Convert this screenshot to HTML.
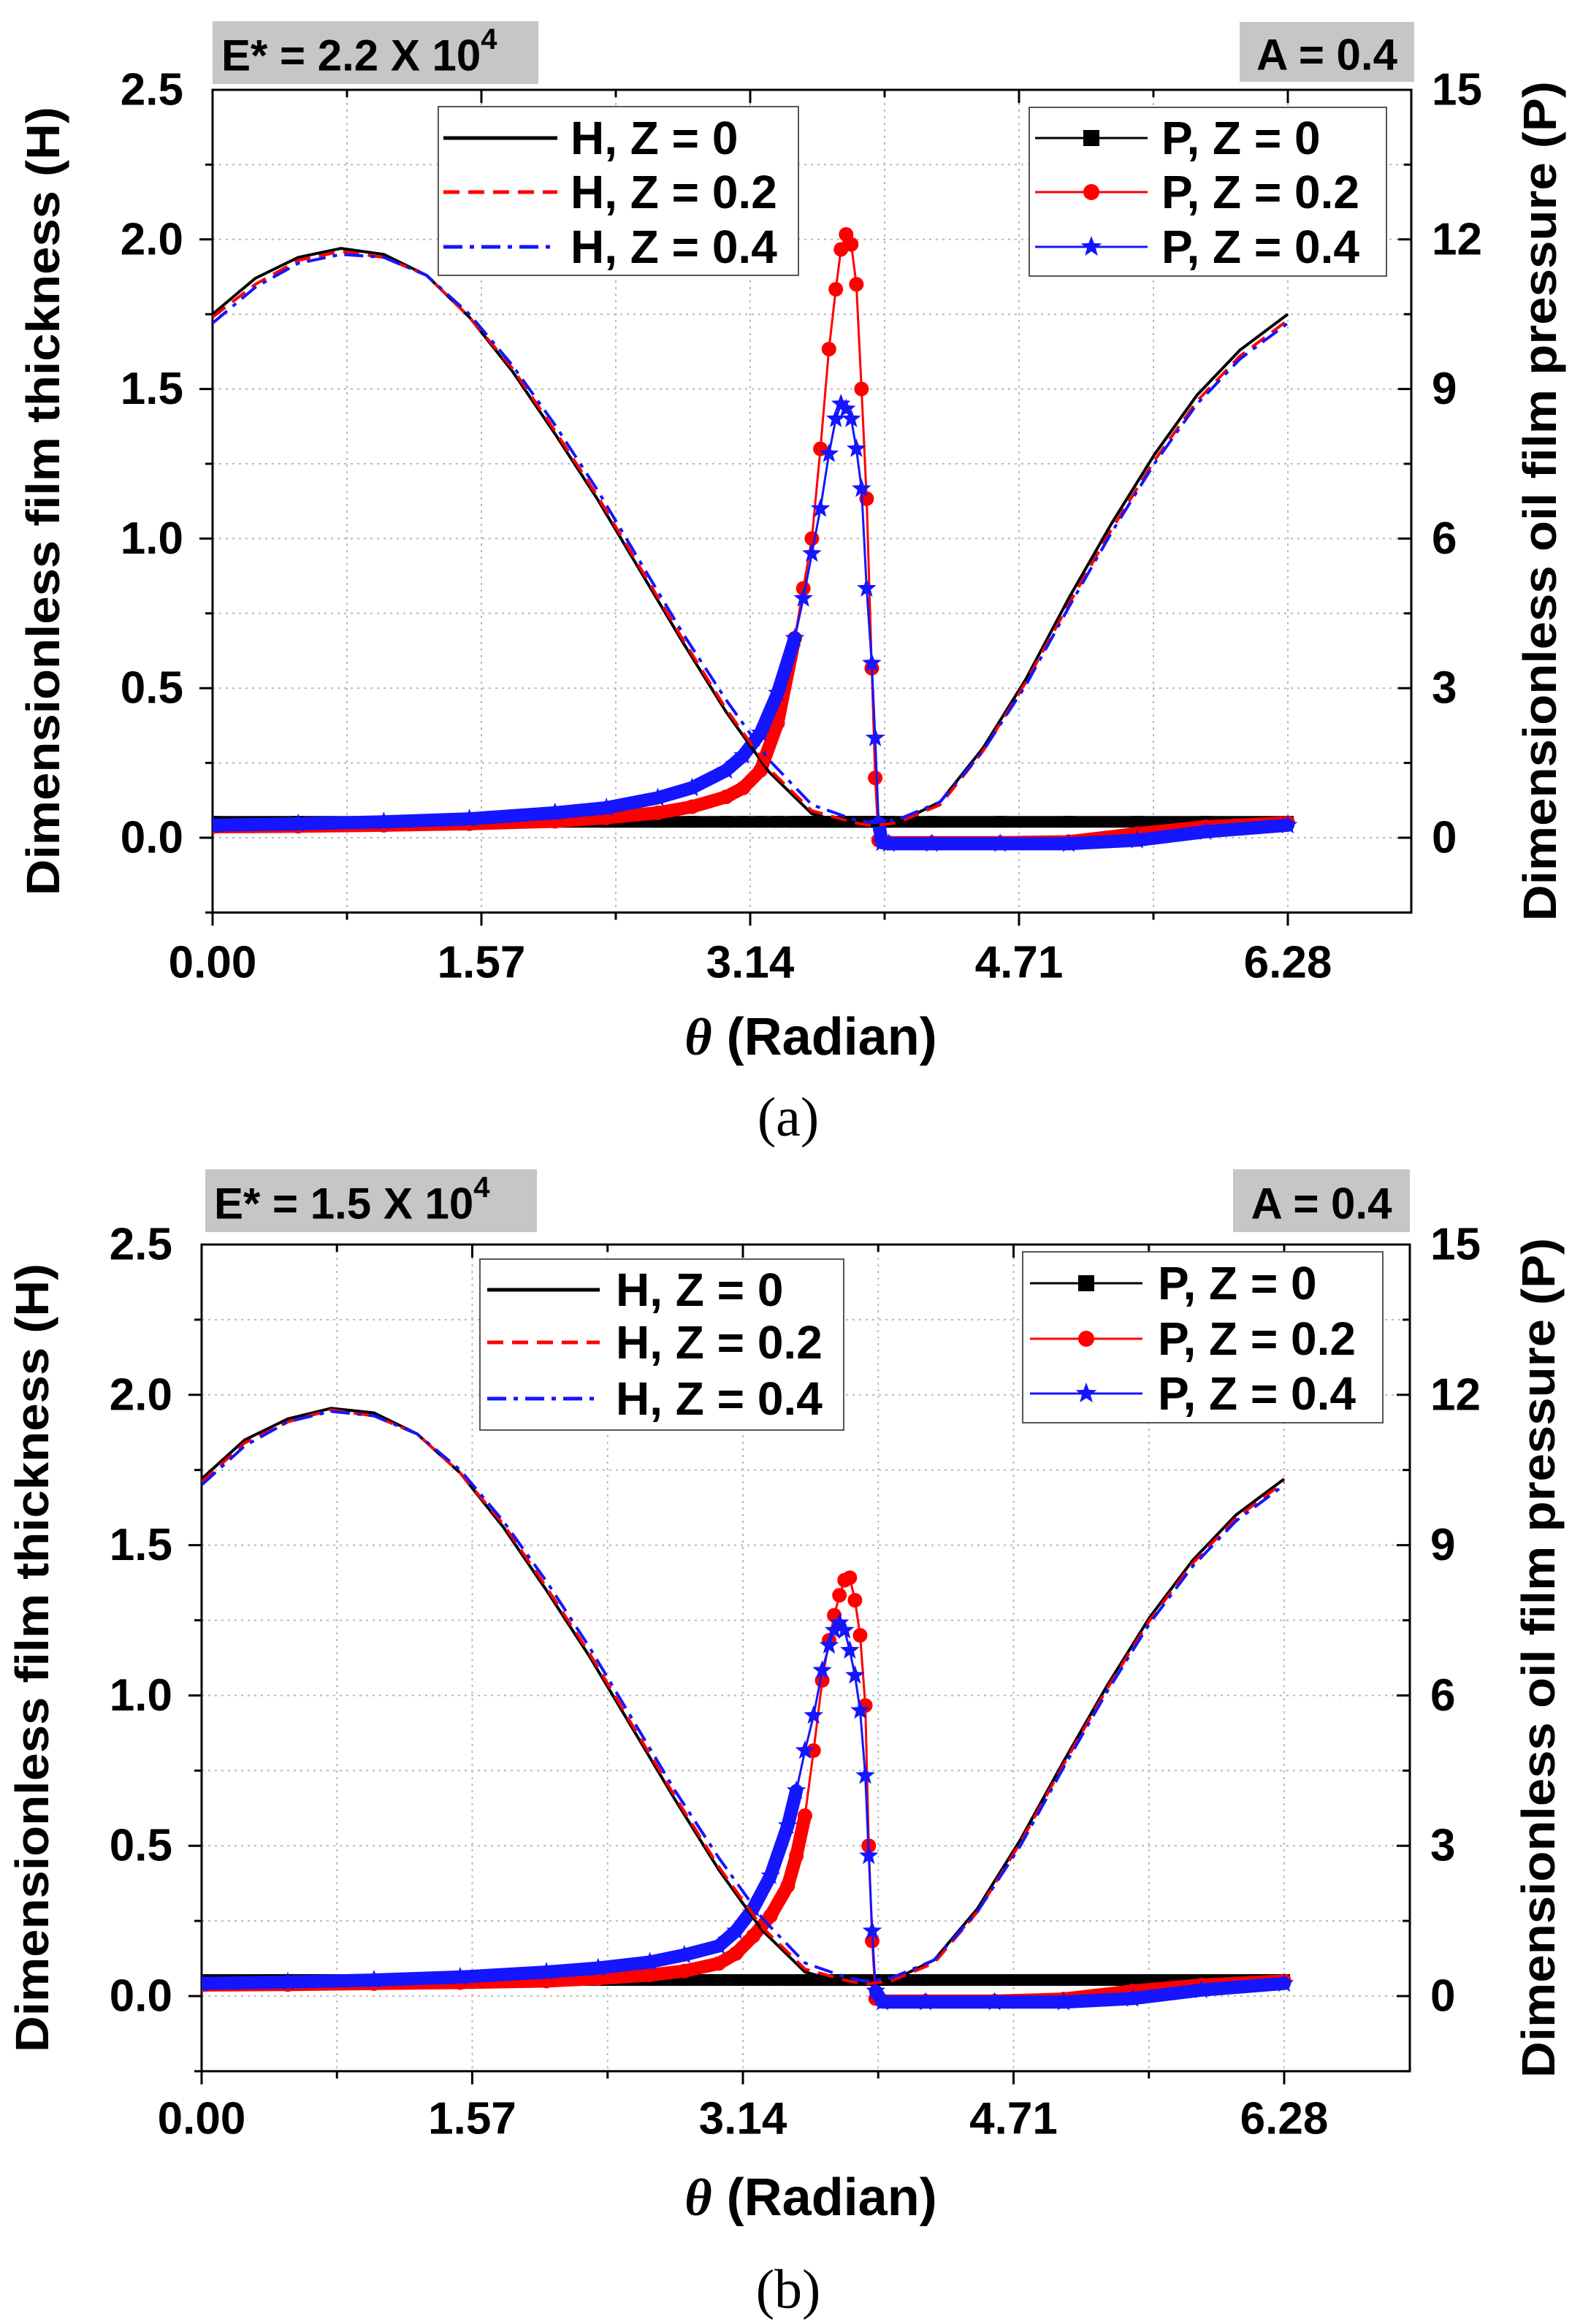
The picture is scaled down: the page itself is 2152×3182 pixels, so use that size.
<!DOCTYPE html>
<html><head><meta charset="utf-8"><style>
html,body{margin:0;padding:0;background:#fff;}
svg{display:block;font-family:"Liberation Sans",Arial,sans-serif;}
</style></head><body>
<svg id="fig" width="2152" height="3182" viewBox="0 0 2152 3182" xmlns="http://www.w3.org/2000/svg"></svg>
<script>
// ---- Data ----
const xTicks = [0, 1.57, 3.14, 4.71, 6.28];
const xTickLabels = ["0.00", "1.57", "3.14", "4.71", "6.28"];
const hTicks = [0, 0.5, 1.0, 1.5, 2.0, 2.5];
const hTickLabels = ["0.0", "0.5", "1.0", "1.5", "2.0", "2.5"];
const pTicks = [0, 3, 6, 9, 12, 15];
const pTickLabels = ["0", "3", "6", "9", "12", "15"];

const thetaH = [0,0.25,0.5,0.75,1.0,1.25,1.5,1.75,2.0,2.25,2.5,2.75,3.0,3.25,3.5,3.75,3.85,4.0,4.25,4.5,4.75,5.0,5.25,5.5,5.75,6.0,6.28];
const hA_z0  = [1.75,1.87,1.94,1.97,1.95,1.88,1.74,1.56,1.35,1.13,0.89,0.65,0.42,0.22,0.08,0.04,0.04,0.05,0.12,0.30,0.53,0.80,1.05,1.28,1.48,1.63,1.75];
const hA_z2  = [1.74,1.85,1.93,1.96,1.94,1.88,1.74,1.57,1.36,1.14,0.90,0.66,0.43,0.23,0.09,0.05,0.04,0.05,0.11,0.29,0.52,0.78,1.03,1.26,1.46,1.61,1.73];
const hA_z4  = [1.72,1.84,1.92,1.95,1.94,1.88,1.75,1.58,1.38,1.16,0.92,0.68,0.46,0.26,0.11,0.06,0.05,0.06,0.12,0.29,0.51,0.77,1.02,1.25,1.45,1.60,1.72];
const hB_z0  = [1.72,1.85,1.92,1.955,1.94,1.87,1.74,1.56,1.35,1.13,0.89,0.65,0.42,0.22,0.08,0.04,0.04,0.05,0.12,0.29,0.52,0.78,1.03,1.26,1.45,1.60,1.72];
const hB_z2  = [1.71,1.84,1.91,1.95,1.93,1.87,1.74,1.57,1.36,1.14,0.90,0.66,0.43,0.23,0.09,0.05,0.04,0.05,0.11,0.28,0.51,0.77,1.02,1.25,1.44,1.59,1.71];
const hB_z4  = [1.70,1.83,1.91,1.945,1.93,1.87,1.75,1.58,1.38,1.16,0.92,0.68,0.46,0.26,0.11,0.06,0.05,0.06,0.12,0.28,0.50,0.76,1.01,1.24,1.43,1.58,1.70];

const thetaP = [0,0.5,1.0,1.5,2.0,2.3,2.6,2.8,3.0,3.1,3.2,3.3,3.4,3.45,3.5,3.55,3.6,3.64,3.67,3.7,3.73,3.76,3.79,3.82,3.85,3.87,3.89,3.91,3.95,4.2,4.6,5.0,5.4,5.8,6.28];
const pA_z0 = [0.32,0.32,0.32,0.32,0.32,0.32,0.32,0.32,0.32,0.32,0.32,0.32,0.32,0.32,0.32,0.32,0.32,0.32,0.32,0.32,0.32,0.32,0.32,0.32,0.32,0.32,0.32,0.32,0.32,0.32,0.32,0.32,0.32,0.32,0.32];
const pA_z2 = [0.22,0.23,0.25,0.28,0.33,0.40,0.50,0.62,0.82,1.0,1.35,2.3,4.0,5.0,6.0,7.8,9.8,11.0,11.8,12.1,11.9,11.1,9.0,6.8,3.4,1.2,-0.05,-0.08,-0.1,-0.1,-0.1,-0.08,0.08,0.22,0.3];
const pA_z4 = [0.25,0.28,0.32,0.38,0.50,0.60,0.80,1.0,1.35,1.65,2.1,2.9,4.0,4.8,5.7,6.6,7.7,8.4,8.7,8.6,8.4,7.8,7.0,5.0,3.5,2.0,0.3,-0.1,-0.12,-0.12,-0.12,-0.12,-0.05,0.12,0.25];
const pB_z0 = pA_z0.slice();
const pB_z2 = [0.22,0.23,0.25,0.27,0.30,0.35,0.42,0.50,0.65,0.85,1.2,1.6,2.2,2.8,3.6,4.9,6.3,7.1,7.6,8.0,8.3,8.35,7.9,7.2,5.8,3.0,1.1,-0.05,-0.1,-0.1,-0.1,-0.06,0.1,0.22,0.3];
const pB_z4 = [0.25,0.28,0.32,0.38,0.48,0.56,0.68,0.82,1.0,1.3,1.75,2.4,3.4,4.1,4.9,5.6,6.5,7.0,7.3,7.45,7.3,6.9,6.4,5.7,4.4,2.8,1.3,0.1,-0.12,-0.12,-0.12,-0.12,-0.05,0.12,0.25];

// ---- Drawing ----
const NS = "http://www.w3.org/2000/svg";
const svg = document.getElementById('fig');
function mk(tag, attrs, parent, name, inter){
  const e = document.createElementNS(NS, tag);
  for (const k in attrs) e.setAttribute(k, attrs[k]);
  
  
  (parent || svg).appendChild(e);
  return e;
}
function txt(s, attrs, parent, name){
  const t = mk('text', attrs, parent, name, false);
  t.textContent = s;
  return t;
}
function star(cx, cy, r){
  let d = '';
  for (let i = 0; i < 10; i++){
    const a = -Math.PI/2 + i*Math.PI/5, rr = i%2 ? r*0.42 : r;
    d += (i ? 'L' : 'M') + (cx + rr*Math.cos(a)).toFixed(1) + ',' + (cy + rr*Math.sin(a)).toFixed(1);
  }
  return d + 'Z';
}

function panel(c){
  const g = mk('g', {}, svg, c.id, false);
  const X = v => c.x0 + (v/6.28)*(c.x628 - c.x0);
  const YH = v => c.y0 - v*c.hUnit;
  const YP = v => YH(v/6);
  const bottom = YH(-0.25), top = YH(2.5);
  const grid = mk('g', {stroke:'#b8b8b8','stroke-width':2,'stroke-dasharray':'3,6'}, g, 'grid', false);
  for (let k = 1; k*0.785 < 7; k++){ const x = X(k*0.785); mk('line',{x1:x,x2:x,y1:top,y2:bottom},grid,'grid-line-x',false); }
  for (let k = 0; k < 11; k++){ const y = YH(-0.25 + k*0.25); mk('line',{x1:c.x0,x2:c.right,y1:y,y2:y},grid,'grid-line-y',false); }
  mk('rect',{x:c.x0,y:top,width:c.right-c.x0,height:bottom-top,fill:'none',stroke:'#000','stroke-width':3},g,'plot-frame',false);
  const tk = mk('g',{stroke:'#000','stroke-width':3},g,'ticks',false);
  for (let k = 0; k*0.785 < 7; k++){
    const x = X(k*0.785), L = k%2 ? 10 : 18;
    mk('line',{x1:x,x2:x,y1:bottom,y2:bottom+L},tk,'x-tick',false);
    mk('line',{x1:x,x2:x,y1:top,y2:top+L},tk,'x-tick-top',false);
  }
  for (let k = 0; k < 11; k++){
    const y = YH(-0.25 + k*0.25), L = k%2 ? 18 : 10;
    mk('line',{x1:c.x0-L,x2:c.x0,y1:y,y2:y},tk,'y-tick-left',false);
    mk('line',{x1:c.right,x2:c.right-L,y1:y,y2:y},tk,'y-tick-right',false);
  }
  const fb = {'font-weight':'bold','font-size':62,fill:'#000'};
  xTicks.forEach((v,i)=>txt(xTickLabels[i], Object.assign({x:X(v),y:c.xLabY,'text-anchor':'middle','dominant-baseline':'central'},fb), g, 'x-tick-label'));
  hTicks.forEach((v,i)=>txt(hTickLabels[i], Object.assign({x:c.x0-40,y:YH(v),'text-anchor':'end','dominant-baseline':'central'},fb), g, 'y-left-tick-label'));
  pTicks.forEach((v,i)=>txt(pTickLabels[i], Object.assign({x:c.right+28,y:YP(v),'text-anchor':'start','dominant-baseline':'central'},fb), g, 'y-right-tick-label'));
  const midY = (top+bottom)/2;
  txt('Dimensionless film thickness (H)', {x:0,y:0,transform:`translate(${c.x0-232},${midY}) rotate(-90)`,'text-anchor':'middle','dominant-baseline':'central','font-weight':'bold','font-size':64,textLength:1080,lengthAdjust:'spacingAndGlyphs'}, g, 'y-left-axis-title');
  txt('Dimensionless oil film pressure (P)', {x:0,y:0,transform:`translate(${c.right+176},${midY}) rotate(-90)`,'text-anchor':'middle','dominant-baseline':'central','font-weight':'bold','font-size':64,textLength:1150,lengthAdjust:'spacingAndGlyphs'}, g, 'y-right-axis-title');
  const xt = txt('', {x:1110,y:c.xTitleY,'text-anchor':'middle','dominant-baseline':'central','font-weight':'bold','font-size':72}, g, 'x-axis-title');
  const th = document.createElementNS(NS,'tspan'); th.setAttribute('font-family','"Liberation Serif",serif'); th.setAttribute('font-style','italic'); th.textContent='θ'; xt.appendChild(th);
  const rest = document.createElementNS(NS,'tspan'); rest.textContent=' (Radian)'; xt.appendChild(rest);
  txt(c.label, {x:1079,y:c.labelY,'text-anchor':'middle','dominant-baseline':'central','font-family':'"Liberation Serif",serif','font-size':76}, g, 'panel-label');
  mk('rect',{x:c.eBox[0],y:c.eBox[1],width:c.eBox[2],height:c.eBox[3],fill:'#c6c6c6'},g,'modulus-box',false);
  const et = txt('E* = '+c.eVal+' X 10', {x:c.eBox[0]+12,y:c.eBox[1]+c.eBox[3]/2+4,'dominant-baseline':'central','font-weight':'bold','font-size':60}, g, 'modulus-annotation');
  const sup = document.createElementNS(NS,'tspan'); sup.setAttribute('font-size','40'); sup.setAttribute('dy','-22'); sup.textContent='4'; et.appendChild(sup);
  mk('rect',{x:c.aBox[0],y:c.aBox[1],width:c.aBox[2],height:c.aBox[3],fill:'#c6c6c6'},g,'amplitude-box',false);
  txt('A = 0.4', {x:c.aBox[0]+c.aBox[2]/2,y:c.aBox[1]+c.aBox[3]/2+4,'text-anchor':'middle','dominant-baseline':'central','font-weight':'bold','font-size':60}, g, 'amplitude-annotation');
  const cp = mk('clipPath',{id:c.id+'-clip'},g,'clip',false);
  mk('rect',{x:c.x0,y:top,width:c.right-c.x0,height:bottom-top},cp,'clip-rect',false);
  const plot = mk('g',{'clip-path':`url(#${c.id}-clip)`},g,'plot-area',false);
  const pSeries = [
    {d:c.p0,col:'#000',m:'sq',name:'p-z0-series'},
    {d:c.p2,col:'#f00',m:'ci',name:'p-z2-series'},
    {d:c.p4,col:'#1515ff',m:'st',name:'p-z4-series'}];
  pSeries.forEach(s=>{
    const sg = mk('g',{},plot,s.name,false);
    const pts = thetaP.map((t,i)=>X(t).toFixed(1)+','+YP(s.d[i]).toFixed(1)).join(' ');
    mk('polyline',{points:pts,fill:'none',stroke:s.col,'stroke-width':s.m==='sq'?16:3},sg,'p-line',false);
    if (s.m!=='sq'){
      // dense marker band: contiguous pre-peak rise region and post-drop region
      let peakIdx = 0;
      s.d.forEach((v,i)=>{ if (v > s.d[peakIdx]) peakIdx = i; });
      const segs = []; let cur = [];
      thetaP.forEach((t,i)=>{
        const ok = (i < peakIdx && s.d[i] < 4.5) || (i > peakIdx && s.d[i] < 0.5);
        if (ok) cur.push([X(t),YP(s.d[i])]);
        else { if (cur.length>1) segs.push(cur); cur = []; }
      });
      if (cur.length>1) segs.push(cur);
      segs.forEach(seg=>{
        mk('polyline',{points:seg.map(p=>p[0].toFixed(1)+','+p[1].toFixed(1)).join(' '),fill:'none',stroke:s.col,'stroke-width':18,'stroke-linejoin':'round','stroke-linecap':'round'},sg,'p-marker-band',false);
      });
    }
    thetaP.forEach((t,i)=>{
      const x = X(t), y = YP(s.d[i]);
      if (s.m==='sq') mk('rect',{x:x-8,y:y-8,width:16,height:16,fill:s.col},sg,'p-marker',false);
      else if (s.m==='ci') mk('circle',{cx:x,cy:y,r:10,fill:s.col},sg,'p-marker',false);
      else mk('path',{d:star(x,y,14),fill:s.col},sg,'p-marker',false);
    });
  });
  const hSeries = [
    {d:c.h0,col:'#000',dash:'none',name:'h-z0-line'},
    {d:c.h2,col:'#f00',dash:'22,12',name:'h-z2-line'},
    {d:c.h4,col:'#1515ff',dash:'26,10,6,10',name:'h-z4-line'}];
  hSeries.forEach(s=>{
    const pts = thetaH.map((t,i)=>X(t).toFixed(1)+','+YH(s.d[i]).toFixed(1)).join(' ');
    mk('polyline',{points:pts,fill:'none',stroke:s.col,'stroke-width':4,'stroke-dasharray':s.dash,'stroke-linejoin':'round'},plot,s.name,false);
  });
  const L1 = c.hLeg;
  const lg1 = mk('g',{},g,'legend-h',false);
  mk('rect',{x:L1.box[0],y:L1.box[1],width:L1.box[2],height:L1.box[3],fill:'#fff',stroke:'#555','stroke-width':2},lg1,'legend-h-box',false);
  hSeries.forEach((s,i)=>{
    const e = mk('g',{},lg1,'legend-entry',true);
    const y = L1.rows[i];
    mk('line',{x1:L1.lx[0],x2:L1.lx[1],y1:y,y2:y,stroke:s.col,'stroke-width':5,'stroke-dasharray':s.dash},e,'legend-swatch',false);
    txt(['H, Z = 0','H, Z = 0.2','H, Z = 0.4'][i], {x:L1.tx,y:y,'dominant-baseline':'central','font-weight':'bold','font-size':64}, e, 'legend-label');
  });
  const L2 = c.pLeg;
  const lg2 = mk('g',{},g,'legend-p',false);
  mk('rect',{x:L2.box[0],y:L2.box[1],width:L2.box[2],height:L2.box[3],fill:'#fff',stroke:'#555','stroke-width':2},lg2,'legend-p-box',false);
  pSeries.forEach((s,i)=>{
    const e = mk('g',{},lg2,'legend-entry',true);
    const y = L2.rows[i], mx = (L2.lx[0]+L2.lx[1])/2;
    mk('line',{x1:L2.lx[0],x2:L2.lx[1],y1:y,y2:y,stroke:s.col,'stroke-width':3},e,'legend-swatch',false);
    if (s.m==='sq') mk('rect',{x:mx-11,y:y-11,width:22,height:22,fill:s.col},e,'legend-marker',false);
    else if (s.m==='ci') mk('circle',{cx:mx,cy:y,r:11,fill:s.col},e,'legend-marker',false);
    else mk('path',{d:star(mx,y,15),fill:s.col},e,'legend-marker',false);
    txt(['P, Z = 0','P, Z = 0.2','P, Z = 0.4'][i], {x:L2.tx,y:y,'dominant-baseline':'central','font-weight':'bold','font-size':64}, e, 'legend-label');
  });
}

panel({id:'panel-a',label:'(a)',x0:291,x628:1763,right:1932,y0:1147,hUnit:409.6,xLabY:1318,xTitleY:1420,labelY:1530,
  eVal:'2.2',eBox:[291,29,446,86],aBox:[1697,30,239,82],
  h0:hA_z0,h2:hA_z2,h4:hA_z4,p0:pA_z0,p2:pA_z2,p4:pA_z4,
  hLeg:{box:[600,146,493,231],rows:[189,263,338],lx:[607,763],tx:781},
  pLeg:{box:[1409,147,489,231],rows:[189,263,338],lx:[1417,1571],tx:1590}});
panel({id:'panel-b',label:'(b)',x0:276,x628:1758,right:1930,y0:2733,hUnit:411.6,xLabY:2901,xTitleY:3009,labelY:3135,
  eVal:'1.5',eBox:[281,1601,454,86],aBox:[1688,1601,242,86],
  h0:hB_z0,h2:hB_z2,h4:hB_z4,p0:pB_z0,p2:pB_z2,p4:pB_z4,
  hLeg:{box:[657,1724,498,234],rows:[1766,1838,1915],lx:[667,821],tx:843},
  pLeg:{box:[1400,1714,493,234],rows:[1757,1833,1908],lx:[1410,1564],tx:1585}});
</script>
</body></html>
